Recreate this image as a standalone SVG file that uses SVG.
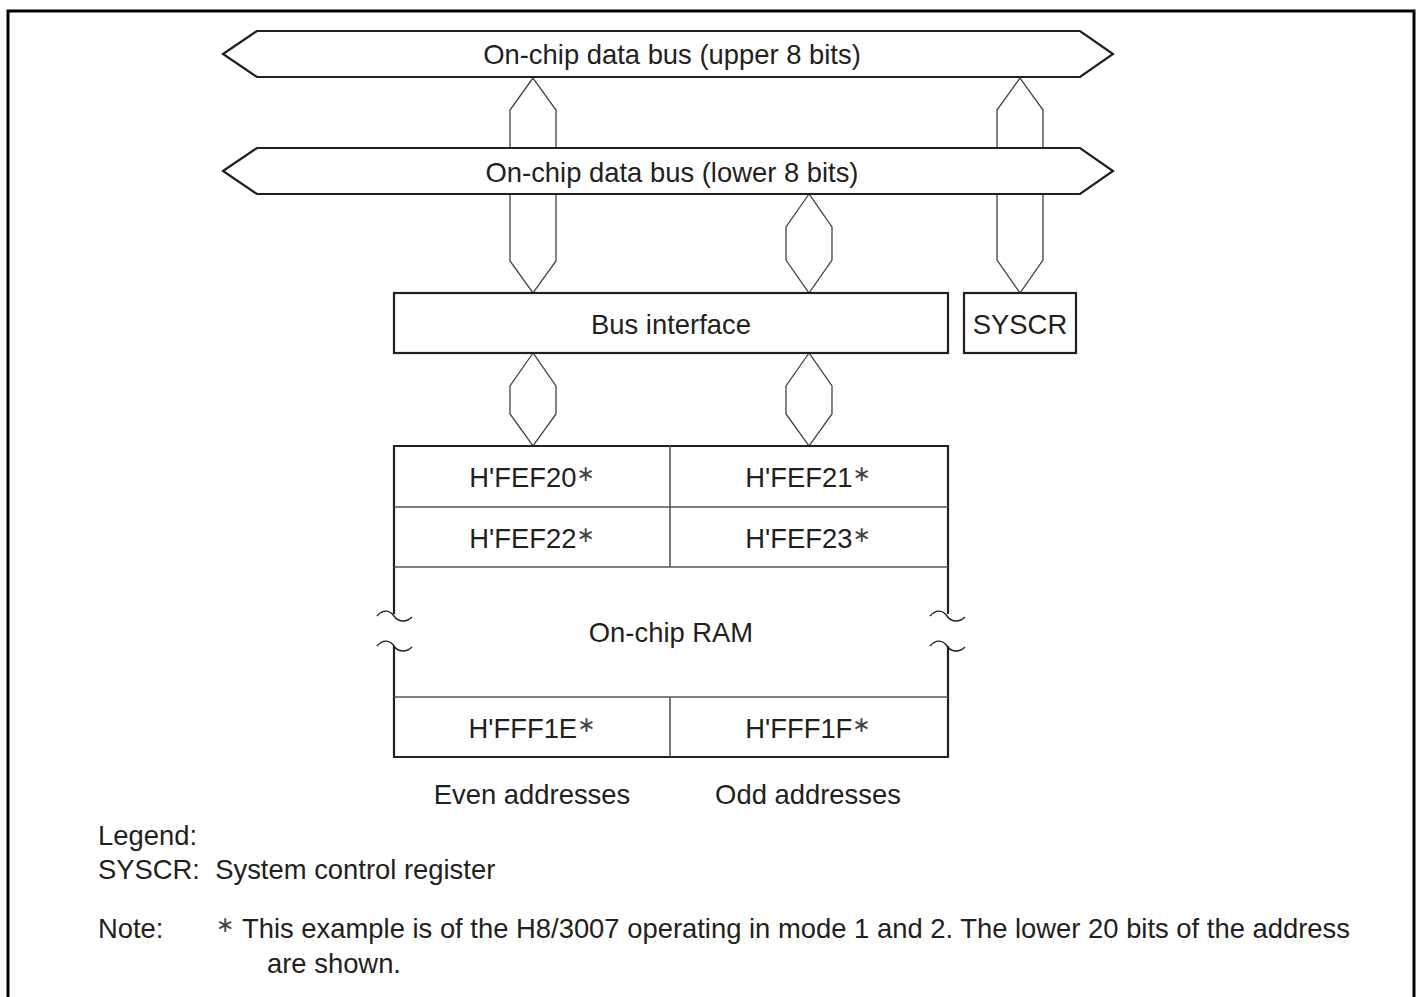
<svg xmlns="http://www.w3.org/2000/svg" width="1419" height="997" viewBox="0 0 1419 997">
<style>
text{font-family:"Liberation Sans",Arial,sans-serif;font-size:27.4px;fill:#231f20}
.c{text-anchor:middle}
.bus{fill:#fff;stroke:#231f20;stroke-width:2.2;stroke-linejoin:miter}
.conn{fill:#fff;stroke:#444;stroke-width:1.3}
.box{fill:#fff;stroke:#231f20;stroke-width:2.2}
.div{fill:none;stroke:#555;stroke-width:1.6}
.brd{fill:none;stroke:#231f20;stroke-width:2.2}
.tl{fill:none;stroke:#231f20;stroke-width:1.4}
.ast{font-family:"DejaVu Sans",sans-serif;font-size:22px;fill:#444}
</style>
<rect width="1419" height="997" fill="#fff"/>
<path d="M8,997 V11 H1414 V997" fill="none" stroke="#000" stroke-width="3"/>

<g id="connectors">
<polygon class="conn" points="533,78 510,110 510,261 533,293 556,261 556,110"/>
<polygon class="conn" points="1020,78 997,110 997,260 1020,293 1043,260 1043,110"/>
<polygon class="conn" points="809,194 786,227 786,260 809,293 832,260 832,227"/>
<polygon class="conn" points="533,353 510,386 510,414 533,446 556,414 556,386"/>
<polygon class="conn" points="809,353 786,386 786,414 809,446 832,414 832,386"/>
</g>

<g id="bus-upper">
<polygon class="bus" points="223,54 257,31 1080,31 1113,54 1080,77 257,77"/>
<text class="c" x="672" y="64">On-chip data bus (upper 8 bits)</text>
</g>
<g id="bus-lower">
<polygon class="bus" points="223,171 257,148 1080,148 1113,171 1080,194 257,194"/>
<text class="c" x="672" y="182">On-chip data bus (lower 8 bits)</text>
</g>

<g id="bus-interface">
<rect class="box" x="394" y="293" width="554" height="60"/>
<text class="c" x="671" y="334">Bus interface</text>
</g>
<g id="syscr">
<rect class="box" x="964" y="293" width="112" height="60"/>
<text class="c" x="1020" y="334">SYSCR</text>
</g>

<g id="ram">
<path class="brd" d="M394,614 V446 H948 V614 M394,646 V757 H948 V646"/>
<path class="div" d="M394,507 H948 M394,567 H948 M394,697 H948 M670,446 V567 M670,697 V757"/>
<path class="tl" d="M377,616 C383,609 390,610 394,616 C398,622 406,623 412,617"/>
<path class="tl" d="M377,646 C383,639 390,640 394,646 C398,652 406,653 412,647"/>
<path class="tl" d="M930,616 C936,609 943,610 947,616 C951,622 959,623 965,617"/>
<path class="tl" d="M930,646 C936,639 943,640 947,646 C951,652 959,653 965,647"/>
<text class="c" x="532" y="487">H'FEF20<tspan class="ast" dy="-6">∗</tspan></text>
<text class="c" x="808" y="487">H'FEF21<tspan class="ast" dy="-6">∗</tspan></text>
<text class="c" x="532" y="548">H'FEF22<tspan class="ast" dy="-6">∗</tspan></text>
<text class="c" x="808" y="548">H'FEF23<tspan class="ast" dy="-6">∗</tspan></text>
<text class="c" x="671" y="642">On-chip RAM</text>
<text class="c" x="532" y="738">H'FFF1E<tspan class="ast" dy="-6">∗</tspan></text>
<text class="c" x="808" y="738">H'FFF1F<tspan class="ast" dy="-6">∗</tspan></text>
</g>

<g id="labels">
<text class="c" x="532" y="804">Even addresses</text>
<text class="c" x="808" y="804">Odd addresses</text>
<text x="98" y="845">Legend:</text>
<text x="98" y="879" xml:space="preserve">SYSCR:  System control register</text>
<text x="98" y="938">Note:</text>
<text class="ast" x="216" y="932">∗</text>
<text x="242" y="938">This example is of the H8/3007 operating in mode 1 and 2. The lower 20 bits of the address</text>
<text x="267" y="973">are shown.</text>
</g>
</svg>
